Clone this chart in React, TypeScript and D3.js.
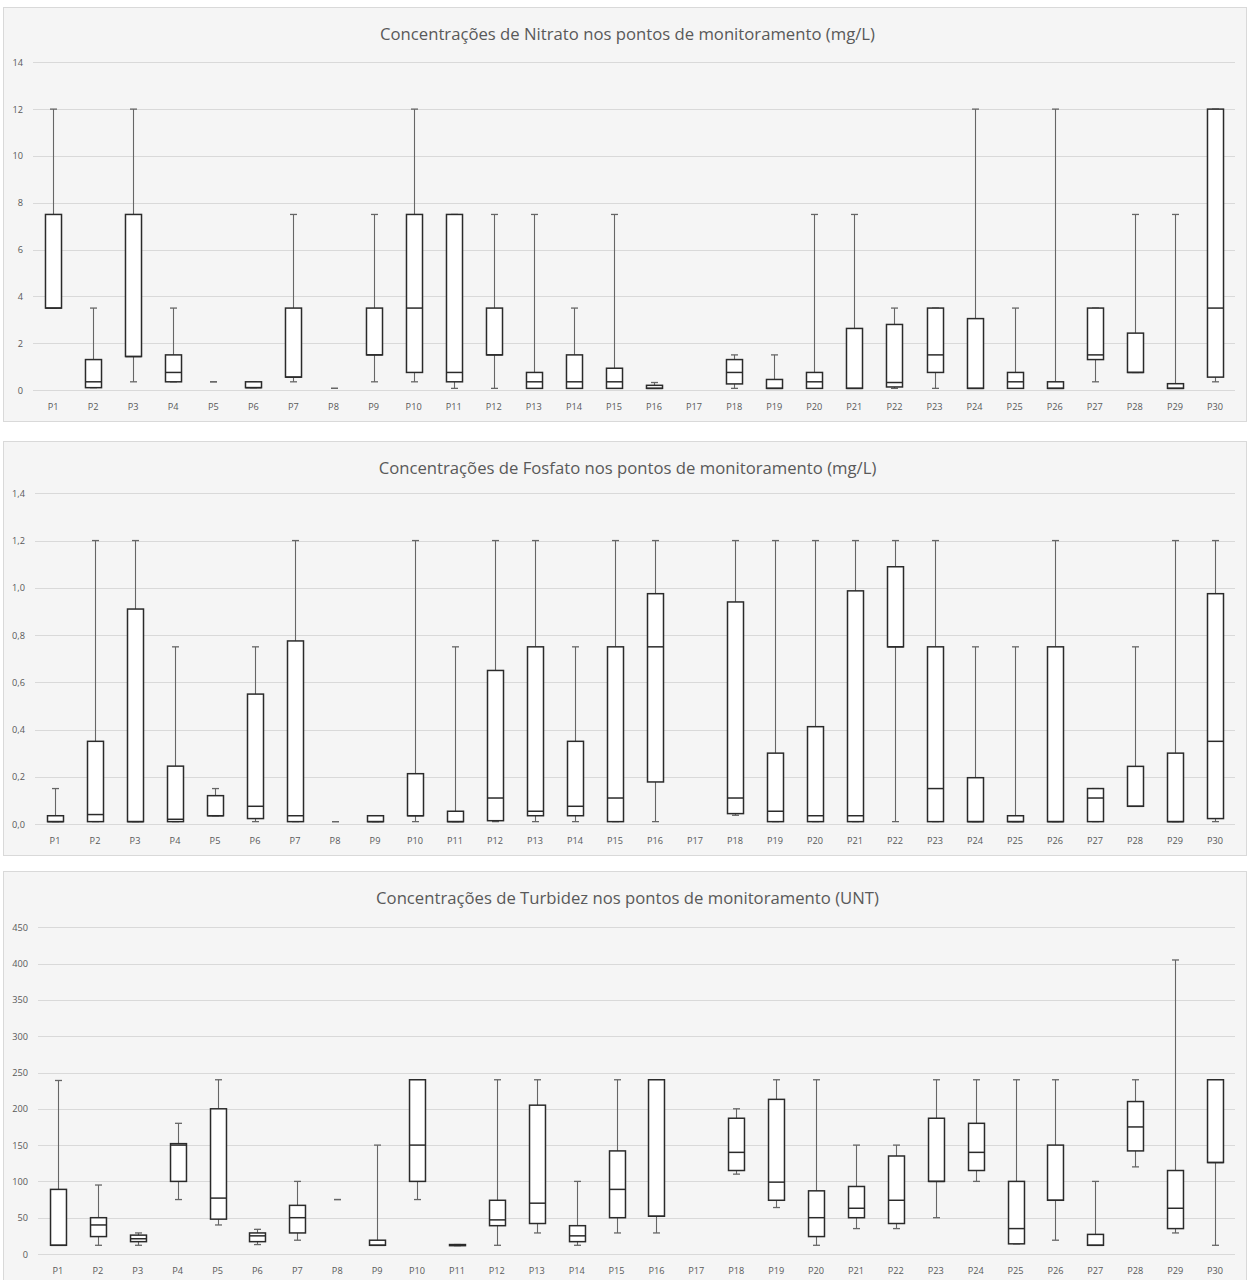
import React, { useEffect, useRef } from "react";
import * as d3 from "d3";

const categories = Array.from({ length: 30 }, (_, i) => `P${i + 1}`);

// Nitrato (mg/L): [min, q1, median, q3, max]; null = no data
const nitrateMin = [3.5, 0.1, 0.35, 0.35, 0.35, 0.1, 0.35, 0.07, 0.35, 0.35, 0.07, 0.07, 0.07, 0.07, 0.07, 0.07, null, 0.07, 0.07, 0.07, 0.07, 0.07, 0.07, 0.07, 0.07, 0.07, 0.35, 0.75, 0.07, 0.35];
const nitrateQ1 = [3.5, 0.1, 1.43, 0.35, 0.35, 0.1, 0.55, 0.07, 1.5, 0.75, 0.35, 1.5, 0.07, 0.07, 0.07, 0.07, null, 0.26, 0.07, 0.07, 0.07, 0.13, 0.75, 0.07, 0.07, 0.07, 1.3, 0.75, 0.07, 0.55];
const nitrateMed = [3.5, 0.35, 1.43, 0.75, 0.35, 0.1, 0.55, 0.07, 1.5, 3.5, 0.75, 1.5, 0.35, 0.35, 0.35, 0.07, null, 0.75, 0.07, 0.35, 0.07, 0.32, 1.5, 0.07, 0.35, 0.07, 1.5, 0.75, 0.07, 3.5];
const nitrateQ3 = [7.5, 1.3, 7.5, 1.5, 0.35, 0.35, 3.5, 0.07, 3.5, 7.5, 7.5, 3.5, 0.75, 1.5, 0.93, 0.2, null, 1.3, 0.45, 0.75, 2.63, 2.8, 3.5, 3.05, 0.75, 0.35, 3.5, 2.43, 0.27, 12];
const nitrateMax = [12, 3.5, 12, 3.5, 0.35, 0.35, 7.5, 0.07, 7.5, 12, 7.5, 7.5, 7.5, 3.5, 7.5, 0.32, null, 1.5, 1.5, 7.5, 7.5, 3.5, 3.5, 12, 3.5, 12, 3.5, 7.5, 7.5, 12];
const nitrateTicks = [0, 2, 4, 6, 8, 10, 12, 14];

// Fosfato (mg/L)
const phosMin = [0.01, 0.01, 0.01, 0.01, 0.035, 0.01, 0.01, 0.01, 0.01, 0.01, 0.01, 0.01, 0.01, 0.01, 0.01, 0.01, null, 0.037, 0.01, 0.01, 0.01, 0.01, 0.01, 0.01, 0.01, 0.01, 0.01, 0.075, 0.01, 0.01];
const phosQ1 = [0.01, 0.01, 0.01, 0.01, 0.035, 0.023, 0.01, 0.01, 0.01, 0.035, 0.01, 0.014, 0.035, 0.035, 0.01, 0.178, null, 0.044, 0.01, 0.01, 0.01, 0.75, 0.01, 0.01, 0.01, 0.01, 0.01, 0.075, 0.01, 0.023];
const phosMed = [0.01, 0.04, 0.01, 0.02, 0.035, 0.075, 0.035, 0.01, 0.01, 0.035, 0.01, 0.11, 0.054, 0.075, 0.11, 0.75, null, 0.11, 0.054, 0.035, 0.035, 0.75, 0.15, 0.01, 0.01, 0.01, 0.11, 0.075, 0.01, 0.35];
const phosQ3 = [0.035, 0.35, 0.91, 0.245, 0.12, 0.55, 0.775, 0.01, 0.035, 0.213, 0.054, 0.65, 0.75, 0.35, 0.75, 0.975, null, 0.94, 0.3, 0.412, 0.987, 1.089, 0.75, 0.196, 0.035, 0.75, 0.15, 0.244, 0.3, 0.975];
const phosMax = [0.15, 1.2, 1.2, 0.75, 0.15, 0.75, 1.2, 0.01, 0.035, 1.2, 0.75, 1.2, 1.2, 0.75, 1.2, 1.2, null, 1.2, 1.2, 1.2, 1.2, 1.2, 1.2, 0.75, 0.75, 1.2, 0.15, 0.75, 1.2, 1.2];
const phosTicks = [0, 0.2, 0.4, 0.6, 0.8, 1.0, 1.2, 1.4];

// Turbidez (UNT)
const turbMin = [12, 12, 12, 75, 40, 13, 19, 75, 12, 75, 11.5, 12, 29, 12, 29, 29, null, 110, 64, 12, 35, 35, 50, 100, 14, 19, 12, 120, 29, 12];
const turbQ1 = [12, 24, 17, 100, 48, 17, 29, 75, 12, 100, 11.5, 39, 42, 17, 50, 52, null, 115, 74, 24, 50, 42, 100, 115, 14, 74, 12, 142, 35, 126];
const turbMed = [12, 40, 21, 150, 77, 25, 50, 75, 12, 150, 12, 47, 70, 25, 89, 52, null, 140, 99, 50, 63, 74, 100, 140, 35, 74, 12, 175, 63, 126];
const turbQ3 = [89, 50, 26, 152, 200, 29, 67, 75, 19, 240, 13, 74, 205, 39, 142, 240, null, 187, 213, 87, 93, 135, 187, 180, 100, 150, 27, 210, 115, 240];
const turbMax = [239, 95, 29, 180, 240, 34, 100, 75, 150, 240, 13, 240, 240, 100, 240, 240, null, 200, 240, 240, 150, 150, 240, 240, 240, 240, 100, 240, 405, 240];
const turbTicks = [0, 50, 100, 150, 200, 250, 300, 350, 400, 450];

const titles = [
  "Concentrações de Nitrato nos pontos de monitoramento (mg/L)",
  "Concentrações de Fosfato nos pontos de monitoramento (mg/L)",
  "Concentrações de Turbidez nos pontos de monitoramento (UNT)",
];

const panels = [
  { title: titles[0], min: nitrateMin, q1: nitrateQ1, med: nitrateMed, q3: nitrateQ3, max: nitrateMax, ticks: nitrateTicks, fmt: (v: number) => d3.format("d")(v) },
  { title: titles[1], min: phosMin, q1: phosQ1, med: phosMed, q3: phosQ3, max: phosMax, ticks: phosTicks, fmt: (v: number) => d3.format(".1f")(v).replace(".", ",") },
  { title: titles[2], min: turbMin, q1: turbQ1, med: turbMed, q3: turbQ3, max: turbMax, ticks: turbTicks, fmt: (v: number) => d3.format("d")(v) },
];

const layout = [
  { top: 7, plotLeft: 33, gridTop: 55.3 },
  { top: 441, plotLeft: 35, gridTop: 52.3 },
  { top: 871, plotLeft: 38, gridTop: 56.3 },
];

const W = 1247;
const H = 1280;
const PANEL_H = 414;
const PANEL_L = 3;
const PANEL_R = 1246;
const PLOT_R = 1235;
const ZERO_OFF = 383;
const FONT = "'Open Sans', 'Noto Sans', sans-serif";

export default function App() {
  const ref = useRef<SVGSVGElement>(null);

  useEffect(() => {
    const svg = d3.select(ref.current);
    svg.selectAll("*").remove();
    svg.append("rect").attr("width", W).attr("height", H).attr("fill", "#ffffff");

    panels.forEach((p, pi) => {
      const L = layout[pi];
      const g = svg.append("g");
      g.append("rect")
        .attr("x", PANEL_L + 0.5)
        .attr("y", L.top + 0.5)
        .attr("width", PANEL_R - PANEL_L)
        .attr("height", PANEL_H)
        .attr("fill", "#f5f5f5")
        .attr("stroke", "#d9d9d9")
        .attr("stroke-width", 1);

      g.append("text")
        .attr("x", (PANEL_L + PANEL_R) / 2 + 3)
        .attr("y", L.top + 26)
        .attr("text-anchor", "middle")
        .attr("dominant-baseline", "central")
        .attr("font-family", FONT)
        .attr("font-size", 16.7)
        .attr("fill", "#595959")
        .text(p.title);

      const x = d3.scaleBand<string>().domain(categories).range([L.plotLeft, PLOT_R]);
      const tMax = p.ticks[p.ticks.length - 1];
      const y = d3.scaleLinear().domain([0, tMax]).range([L.top + ZERO_OFF, L.top + L.gridTop]);

      // gridlines
      g.append("g")
        .selectAll("line")
        .data(p.ticks)
        .join("line")
        .attr("x1", L.plotLeft)
        .attr("x2", PLOT_R)
        .attr("y1", (d) => Math.round(y(d)) + 0.5)
        .attr("y2", (d) => Math.round(y(d)) + 0.5)
        .attr("stroke", "#d9d9d9")
        .attr("stroke-width", 1);

      // y tick labels
      g.append("g")
        .selectAll("text")
        .data(p.ticks)
        .join("text")
        .attr("x", L.plotLeft - 10)
        .attr("y", (d) => y(d))
        .attr("text-anchor", "end")
        .attr("dominant-baseline", "central")
        .attr("font-family", FONT)
        .attr("font-size", 9.2)
        .attr("fill", "#595959")
        .text((d) => p.fmt(d));

      // x labels
      g.append("g")
        .selectAll("text")
        .data(categories)
        .join("text")
        .attr("x", (d) => (x(d) as number) + x.bandwidth() / 2)
        .attr("y", L.top + 399)
        .attr("text-anchor", "middle")
        .attr("dominant-baseline", "central")
        .attr("font-family", FONT)
        .attr("font-size", 9.2)
        .attr("fill", "#595959")
        .text((d) => d);

      const boxW = x.bandwidth() * 0.4;
      const capW = 7;
      const items = categories
        .map((c, i) => ({ c, mn: p.min[i], q1: p.q1[i], md: p.med[i], q3: p.q3[i], mx: p.max[i] }))
        .filter((d) => d.mn !== null);

      const bg = g.append("g");
      items.forEach((d) => {
        const cx = Math.round((x(d.c) as number) + x.bandwidth() / 2) + 0.5;
        const wc = "#666666";
        // whiskers
        bg.append("line").attr("x1", cx).attr("x2", cx).attr("y1", y(d.mn as number)).attr("y2", y(d.q1 as number)).attr("stroke", wc).attr("stroke-width", 1.1);
        bg.append("line").attr("x1", cx).attr("x2", cx).attr("y1", y(d.q3 as number)).attr("y2", y(d.mx as number)).attr("stroke", wc).attr("stroke-width", 1.1);
        // caps
        [d.mn, d.mx].forEach((v) => {
          bg.append("line")
            .attr("x1", cx - capW / 2)
            .attr("x2", cx + capW / 2)
            .attr("y1", y(v as number))
            .attr("y2", y(v as number))
            .attr("stroke", wc)
            .attr("stroke-width", 1.3);
        });
        if ((d.q3 as number) > (d.q1 as number)) {
          const yTop = y(d.q3 as number);
          const yBot = y(d.q1 as number);
          bg.append("rect")
            .attr("x", cx - boxW / 2)
            .attr("y", yTop)
            .attr("width", boxW)
            .attr("height", Math.max(yBot - yTop, 0.5))
            .attr("fill", "#ffffff")
            .attr("stroke", "#2b2b2b")
            .attr("stroke-width", 1.5);
          bg.append("line")
            .attr("x1", cx - boxW / 2)
            .attr("x2", cx + boxW / 2)
            .attr("y1", y(d.md as number))
            .attr("y2", y(d.md as number))
            .attr("stroke", "#2b2b2b")
            .attr("stroke-width", 1.5);
        }
      });
    });
  }, []);

  return (
    <svg
      ref={ref}
      width={W}
      height={H}
      style={{ position: "absolute", left: 0, top: 0, display: "block" }}
    />
  );
}
